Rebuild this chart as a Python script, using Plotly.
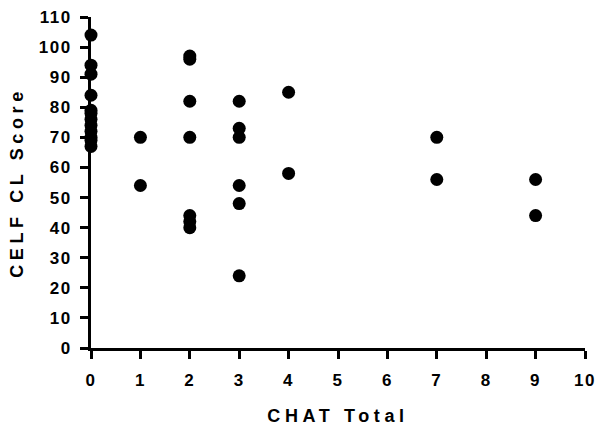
import plotly.graph_objects as go

chat_total = [0, 0, 0, 0, 0, 0, 0, 0, 0, 0, 0, 0,
              1, 1,
              2, 2, 2, 2, 2, 2, 2,
              3, 3, 3, 3, 3, 3,
              4, 4,
              7, 7,
              9, 9]
celf_cl = [104, 94, 91, 84, 79, 78, 76, 74, 72, 70, 69, 67,
           70, 54,
           97, 96, 82, 70, 44, 42, 40,
           82, 73, 70, 54, 48, 24,
           85, 58,
           70, 56,
           56, 44]

x_ticks = list(range(0, 11))
x_tick_labels = [str(v) for v in x_ticks]
y_ticks = list(range(0, 111, 10))
y_tick_labels = [str(v) for v in y_ticks]
x_title = "CHAT Total"
y_title = "CELF CL Score"

font_family = "Liberation Sans, Arial, sans-serif"


def spaced(text, px):
    return f'<span style="letter-spacing:{px}px">{text}</span>'


fig = go.Figure(go.Scatter(
    x=chat_total, y=celf_cl, mode="markers",
    marker=dict(color="black", size=13),
    cliponaxis=False, showlegend=False,
))

axis_common = dict(
    showline=True, linecolor="black", linewidth=3,
    ticks="outside", ticklen=8, tickwidth=3, tickcolor="black",
    showgrid=False, zeroline=False, automargin=False,
    tickfont=dict(family=font_family, size=17, color="black", weight="bold"),
)

fig.update_layout(
    width=598, height=427,
    margin=dict(l=91, r=13, t=17, b=79),
    plot_bgcolor="white", paper_bgcolor="white",
    xaxis=dict(range=[0, 10], tickvals=x_ticks,
               ticktext=[spaced(t, 1.5) for t in x_tick_labels],
               ticklabelstandoff=7,
               title=dict(text=spaced(x_title, 4.6), standoff=20,
                          font=dict(family=font_family, size=18, color="black", weight="bold")),
               **axis_common),
    yaxis=dict(range=[0, 110], tickvals=y_ticks,
               ticktext=[spaced(t, 1.5) for t in y_tick_labels],
               ticklabelstandoff=5,
               title=dict(text=spaced(y_title, 4.6), standoff=11,
                          font=dict(family=font_family, size=18, color="black", weight="bold")),
               **axis_common),
)

fig.write_html("out.html", config={"displayModeBar": False},
               post_script="document.body.style.margin='0';")
